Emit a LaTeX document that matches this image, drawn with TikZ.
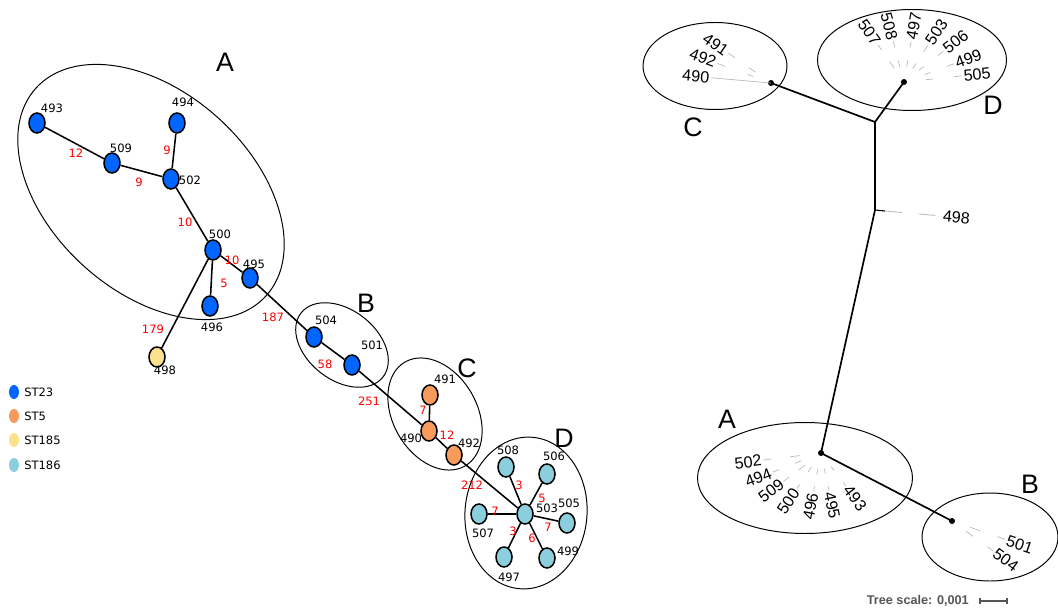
\documentclass[tikz,border=0pt]{standalone}
\usepackage{fontspec}
\setmainfont{DejaVu Sans}
\newfontfamily\treefont{Liberation Sans}
\usetikzlibrary{shapes.geometric,calc}

\definecolor{stA}{RGB}{0,102,255}
\definecolor{stB}{RGB}{247,155,92}
\definecolor{stC}{RGB}{252,226,140}
\definecolor{stD}{RGB}{139,206,222}
\definecolor{scalegray}{RGB}{85,85,85}

\tikzset{
  st/.style={ellipse, draw=black, line width=1.1pt, minimum width=0.4cm, minimum height=0.5cm, inner sep=0pt},
  legdot/.style={ellipse, minimum width=0.25cm, minimum height=0.35cm, inner sep=0pt},
  nlab/.style={font=\fontsize{8.2}{10}\selectfont, inner sep=0pt},
  wlab/.style={nlab, text=red},
  link/.style={line width=1.1pt},
  ring/.style={line width=0.7pt},
  grp/.style={font=\treefont\fontsize{19}{21}\selectfont, inner sep=0pt},
  branch/.style={line width=1.2pt},
  leaf/.style={gray!55, line width=0.5pt},
  tlab/.style={font=\treefont\fontsize{11.5}{13}\selectfont, inner sep=0.5pt},
}

\begin{document}
\begin{tikzpicture}[x=0.025cm, y=-0.025cm]

  \useasboundingbox (0,0) rectangle (1058,610);

  % minimum spanning tree
  \foreach \n/\x/\y/\c/\lx/\ly in {
    493/37/123/stA/52/108, 509/112/163/stA/121/148, 494/177/123/stA/183/102,
    502/171/179/stA/190/180, 500/213/250/stA/220/234, 495/250/278/stA/254/264,
    496/210/306/stA/212/327, 498/157/357/stC/165/370, 504/314/337/stA/326/320,
    501/352/365/stA/372/345, 491/430/395/stB/445/379, 490/429/431/stB/411/438,
    492/454/455/stB/469/443, 503/525/514/stD/547/508, 508/506/467/stD/508/450,
    506/547/474/stD/554/456, 505/567/523/stD/569/503, 499/547/558/stD/568/551,
    497/504/557/stD/509/577, 507/479/514/stD/483/533}
  {
    \node[st, fill=\c] (n\n) at (\x,\y) {};
    \node[nlab] (l\n) at (\lx,\ly) {\n};
  }

  \foreach \a/\b/\w/\wx/\wy in {
    493/509/12/76/153, 509/502/9/139/182, 494/502/9/167/150, 502/500/10/185/222,
    500/495/10/232/260, 500/496/5/224/283, 500/498/179/153/329, 495/504/187/273/317,
    504/501/58/325/364, 501/490/251/369/401, 491/490/7/423/410, 490/492/12/447/435,
    492/503/212/472/485, 508/503/3/519/485, 506/503/5/542/498, 505/503/7/548/527,
    499/503/6/532/538, 497/503/3/513/531, 507/503/7/495/511}
  {
    \draw[link] (n\a) -- (n\b);
    \node[wlab] (w\a\b) at (\wx,\wy) {\w};
  }

  \draw[ring, rotate around={-42:(151,192)}] (151,192) ellipse [x radius=155, y radius=100];
  \draw[ring, rotate around={-38:(342,345)}] (342,345) ellipse [x radius=52, y radius=35];
  \draw[ring, rotate around={-60:(435,414)}] (435,414) ellipse [x radius=60, y radius=42];
  \draw[ring, rotate around={-5:(526,513)}] (526,513) ellipse [x radius=61, y radius=76];

  \node[grp] (gA) at (225,62) {A};
  \node[grp] (gB) at (366,303) {B};
  \node[grp] (gC) at (467,368) {C};
  \node[grp] (gD) at (564,438) {D};

  % legend
  \foreach \c/\t/\y in {stA/ST23/392, stB/ST5/416, stC/ST185/440, stD/ST186/465}
  {
    \node[legdot, fill=\c] (k\t) at (14,\y) {};
    \node[nlab, anchor=west] (kl\t) at (24,\y) {\t};
  }

  % unrooted tree
  \coordinate (dC) at (771,83);
  \coordinate (dD) at (904,82);
  \coordinate (jCD) at (875,122);
  \coordinate (j498) at (875,210);
  \coordinate (t498) at (885,211);
  \coordinate (e498) at (942,216);
  \coordinate (dA) at (821,453);
  \coordinate (dB) at (952,521);

  \draw[branch] (dC) -- (jCD) -- (dD);
  \draw[branch] (jCD) -- (j498) -- (dA) -- (dB);
  \draw[line width=0.8pt] (j498) -- (t498);
  \draw[leaf, dash pattern=on 12 off 12, line width=0.6pt] (t498) -- (e498);
  \node[tlab, anchor=west, rotate=-5] (l498t) at (e498) {498};

  \foreach \d in {dC,dD,dA,dB}
    \fill (\d) circle [radius=0.075cm];

  \foreach \c/\a/\ra/\rb/\rc/\rd/\lab in {
    dC/175/0/30/30/60/490, dC/160/19/25/49/57/492, dC/145/19/27/44/52/491,
    dD/125/17/25/39/45/507, dD/105/15/22/36/42/508, dD/80/15/22/35/41/497,
    dD/57/16/22/36/44/503, dD/38/19/25/43/50/506, dD/20/22/28/46/53/499,
    dD/6/22/29/50/58/505,
    dA/187/21/31/50/58/502, dA/201.6/21/28/45/52/494, dA/217/20/28/40/47/509,
    dA/236/17/23/38/43/500, dA/259/16/22/34/39/496, dA/282/16/21/34/38/495,
    dA/307/17/22/37/41/493,
    dB/341/19/30/48/56/501, dB/324/17/26/44/51/504}
  {
    \draw[leaf] ($(\c)+(-\a:\ra)$) -- ($(\c)+(-\a:\rb)$);
    \draw[leaf] ($(\c)+(-\a:\rc)$) -- ($(\c)+(-\a:\rd)$);
    \pgfmathsetmacro\cs{cos(\a)}
    \ifdim\cs pt<0pt
      \node[tlab, anchor=east, rotate=\a-180] (t\lab) at ($(\c)+(-\a:\rd+1)$) {\lab};
    \else
      \node[tlab, anchor=west, rotate=\a] (t\lab) at ($(\c)+(-\a:\rd+1)$) {\lab};
    \fi
  }

  \draw[ring] (715,66) ellipse [x radius=72, y radius=43.5];
  \draw[ring] (912,60) ellipse [x radius=94.5, y radius=50.5];
  \draw[ring] (805,478) ellipse [x radius=107.5, y radius=55.5];
  \draw[ring] (990,537) ellipse [x radius=68, y radius=44];

  \node[grp] (hA) at (727,419) {A};
  \node[grp] (hB) at (1030,484) {B};
  \node[grp] (hC) at (693,127) {C};
  \node[grp] (hD) at (993,105) {D};

  % scale bar
  \node[font=\treefont\bfseries\fontsize{9}{10}\selectfont, text=scalegray, anchor=east, inner sep=0pt] (scale) at (969,601) {Tree scale: 0,001};
  \coordinate (sb1) at (980,601);
  \coordinate (sb2) at (1007,601);
  \draw[scalegray, line width=0.8pt] (sb1) -- (sb2);
  \draw[scalegray, line width=0.8pt] ($(sb1)+(0,-3)$) -- ($(sb1)+(0,3)$);
  \draw[scalegray, line width=0.8pt] ($(sb2)+(0,-3)$) -- ($(sb2)+(0,3)$);

\end{tikzpicture}
\end{document}
